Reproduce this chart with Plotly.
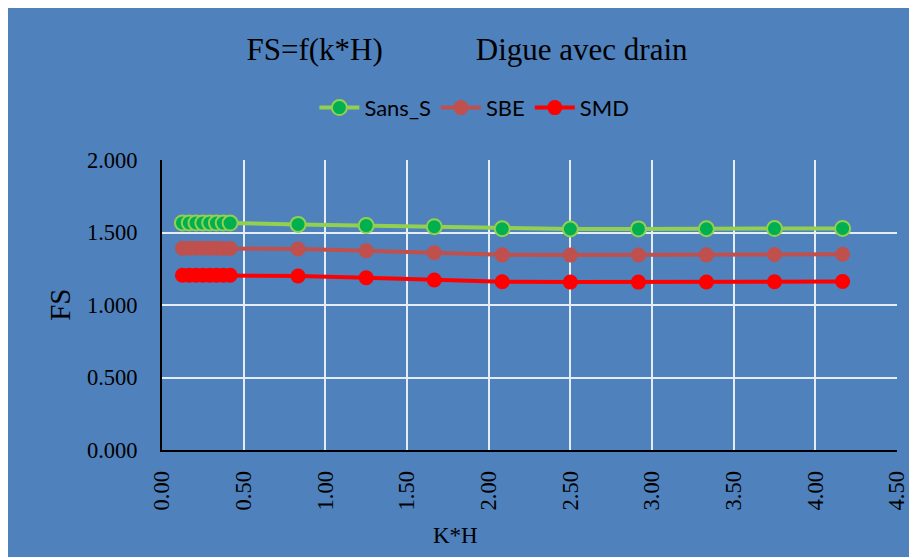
import plotly.graph_objects as go

kh = [0.125, 0.167, 0.208, 0.250, 0.292, 0.333, 0.375, 0.417,
      0.833, 1.250, 1.667, 2.083, 2.500, 2.917, 3.333, 3.750, 4.167]
sans_s = [1.566, 1.566, 1.566, 1.566, 1.566, 1.565, 1.565, 1.565,
          1.556, 1.548, 1.540, 1.526, 1.524, 1.525, 1.526, 1.527, 1.528]
sbe = [1.391, 1.391, 1.391, 1.391, 1.391, 1.391, 1.390, 1.390,
       1.386, 1.374, 1.360, 1.346, 1.344, 1.345, 1.346, 1.348, 1.350]
smd = [1.205, 1.205, 1.205, 1.205, 1.205, 1.205, 1.205, 1.205,
       1.200, 1.188, 1.172, 1.160, 1.158, 1.158, 1.159, 1.160, 1.162]

x_ticks = [0, 0.5, 1, 1.5, 2, 2.5, 3, 3.5, 4, 4.5]
y_ticks = [0, 0.5, 1.0, 1.5, 2.0]

BLUE = "#4F81BD"
serif = "Liberation Serif, Times New Roman, serif"
sans = "Lato, Noto Sans, sans-serif"

fig = go.Figure()
fig.add_trace(go.Scatter(
    x=kh, y=sans_s, name="Sans_S", mode="lines+markers",
    line=dict(color="#92D050", width=4),
    marker=dict(color="#00B050", size=15, line=dict(color="#92D050", width=2))))
fig.add_trace(go.Scatter(
    x=kh, y=sbe, name="SBE", mode="lines+markers",
    line=dict(color="#C0504D", width=4),
    marker=dict(color="#C0504D", size=15, line=dict(color="#C0504D", width=0))))
fig.add_trace(go.Scatter(
    x=kh, y=smd, name="SMD", mode="lines+markers",
    line=dict(color="#FF0000", width=4),
    marker=dict(color="#FF0000", size=15, line=dict(color="#FF0000", width=0))))

fig.update_layout(
    width=909, height=549,
    paper_bgcolor=BLUE, plot_bgcolor=BLUE,
    margin=dict(l=154, r=20, t=152, b=107, autoexpand=False),
    title=dict(text="FS=f(k*H)" + "\u00a0" * 12 + "Digue avec drain",
               x=0.505, xanchor="center", y=0.925, yanchor="middle",
               font=dict(family=serif, size=31, color="black")),
    legend=dict(orientation="h", x=0.425, xanchor="center", y=1.18, yanchor="middle",
                font=dict(family=sans, size=22, color="black"),
                bgcolor="rgba(0,0,0,0)", itemwidth=40),
    showlegend=True,
    font=dict(family=serif, color="black"),
)
fig.update_xaxes(
    range=[0, 4.5], tickvals=x_ticks, tickformat=".2f", tickangle=-90,
    tickfont=dict(family=serif, size=22.5, color="black"),
    ticklabelstandoff=10, automargin=False,
    showgrid=True, gridcolor="#E4ECF5", gridwidth=1.5,
    showline=True, linecolor="black", linewidth=2, zeroline=False,
    ticks="", ticklen=0)
fig.update_yaxes(
    range=[0, 2.0], tickvals=y_ticks, tickformat=".3f",
    tickfont=dict(family=serif, size=22.5, color="black"),
    ticklabelstandoff=18, automargin=False,
    showgrid=True, gridcolor="#E4ECF5", gridwidth=1.5,
    showline=True, linecolor="black", linewidth=2, zeroline=False,
    ticks="", ticklen=0)

fig.add_annotation(text="FS", xref="paper", yref="paper", x=-0.139, y=0.5,
                   xanchor="center", yanchor="middle", showarrow=False, textangle=-90,
                   font=dict(family=serif, size=29, color="black"))
fig.add_annotation(text="K*H", xref="paper", yref="paper", x=0.399, y=-0.295,
                   xanchor="center", yanchor="middle", showarrow=False,
                   font=dict(family=serif, size=23, color="black"))

fig.write_html("out.html")
